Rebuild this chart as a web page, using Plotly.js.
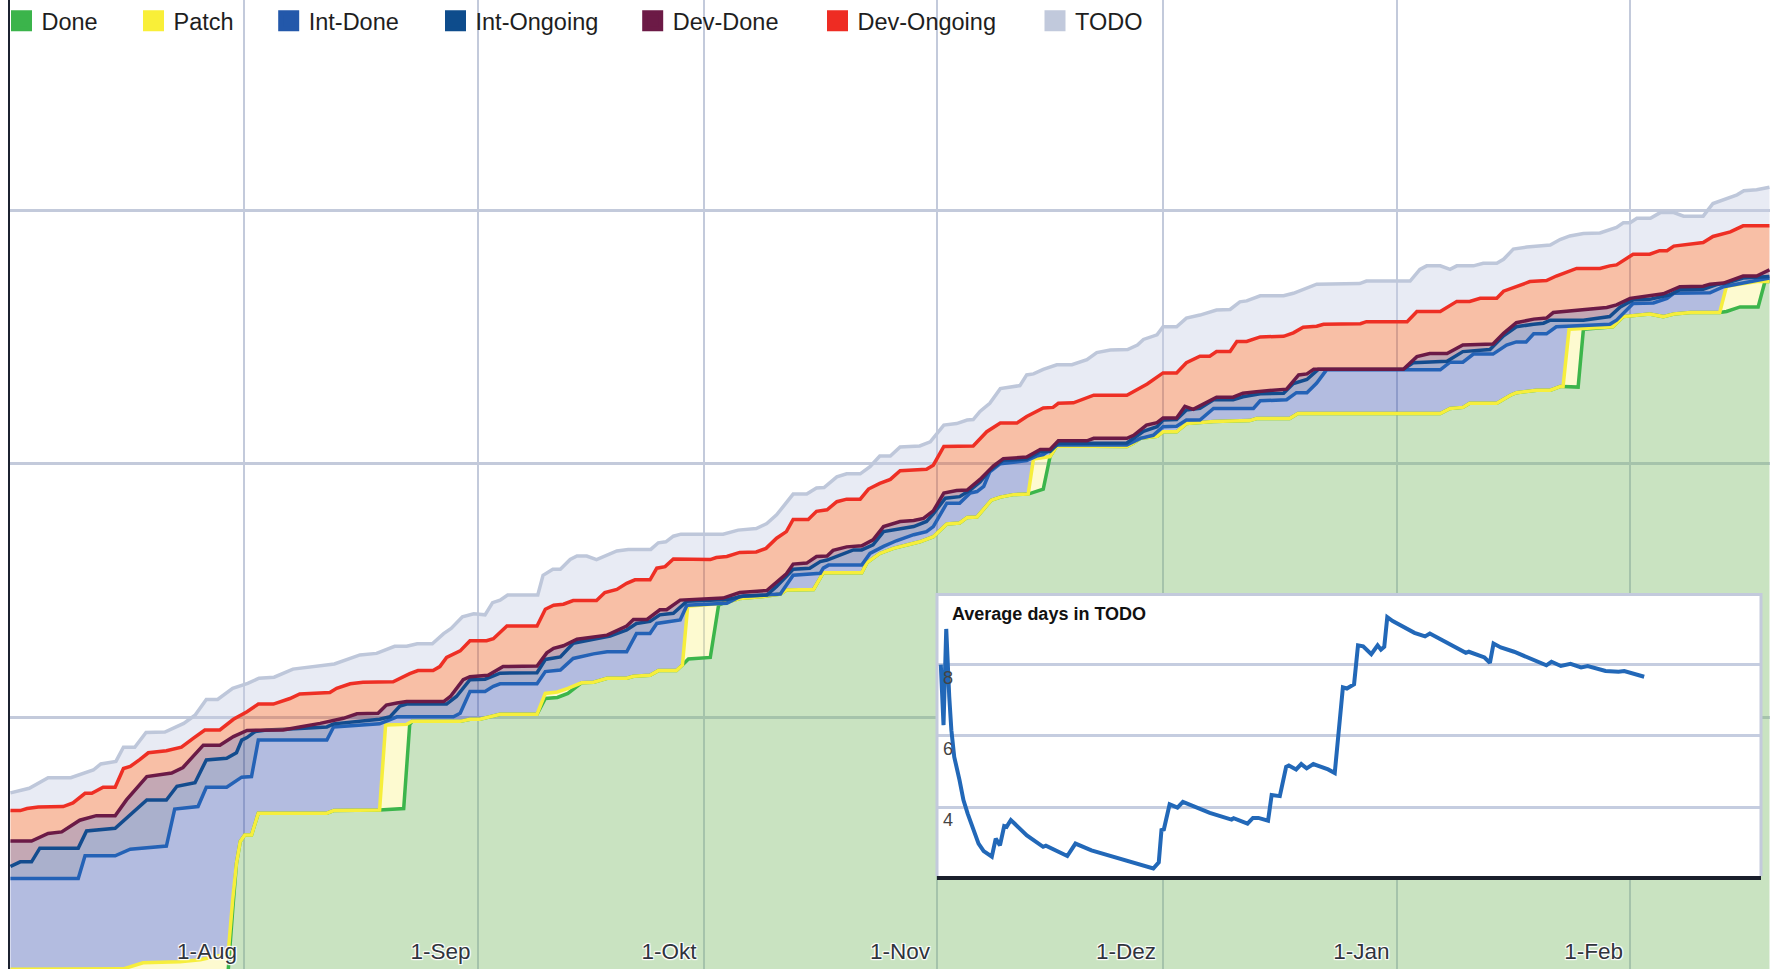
<!DOCTYPE html>
<html><head><meta charset="utf-8">
<script src="https://cdn.plot.ly/plotly-3.0.1.min.js"></script>
<style>html,body{margin:0;padding:0;background:#fff;overflow:hidden}#chart{width:1770px;height:969px}</style>
</head><body><div id="chart"></div>
<script>
// ---- data: [day offset from 1 Jul 2012, cumulative level of the band top] ----
const startDate = Date.UTC(2012, 6, 1);
const seriesNames = ['Done','Patch','Int-Done','Int-Ongoing','Dev-Done','Dev-Ongoing','TODO'];
const monthTickDates = ['2012-08-01','2012-09-01','2012-10-01','2012-11-01','2012-12-01','2013-01-01','2013-02-01'];
const monthTickLabels = ['1-Aug','1-Sep','1-Okt','1-Nov','1-Dez','1-Jan','1-Feb'];
const insetTickVals = [4, 6, 8];

const doneSeries = [[0,0],[28.9,0],[29.5,12],[30,21.2],[30.5,25.5],[31.1,26.8],[32,26.8],[32.9,31.1],[42,31.1],[42.9,31.6],[49,31.7],[52.2,32.0],[53,48.6],[53.3,49.2],[59.7,49.2],[61,49.6],[62.3,49.6],[65,50.6],[69.9,50.6],[71,53.7],[72.6,53.9],[74,54.7],[75.8,56.8],[77.4,56.9],[79.2,57.7],[81.8,57.7],[82.7,58.1],[84.9,58.3],[86,59.2],[88.4,59.2],[89.2,60.3],[90,61.5],[92.9,61.8],[94,72.1],[94.6,72.5],[95.5,72.9],[96.8,73.4],[99.9,73.8],[102.2,74.3],[103,75.1],[104.8,75.2],[106.6,75.2],[107.9,78.5],[113,78.5],[113.7,80.5],[115.4,82.3],[117.2,83.3],[119,83.9],[120.7,84.6],[122.5,85.6],[124.3,88.1],[126,88.3],[127,89.4],[128.3,89.5],[130.2,92.8],[131.4,93.4],[133.1,93.9],[135.1,94.0],[137.1,95.0],[138,101.4],[138.9,103.5],[148.2,103.4],[149.1,104.1],[150,105.0],[152.2,105.4],[153,106.3],[154.8,106.3],[156.1,107.9],[159.7,108.3],[164.5,108.5],[165.4,108.9],[169.8,108.9],[170.9,109.9],[189.8,109.9],[191.1,110.9],[192.8,111.1],[193.7,111.9],[197.3,111.9],[199.1,113.5],[199.9,114.0],[202.6,114.5],[204.4,114.5],[205.7,115.2],[206.1,115.2],[208.1,115.1],[208.8,126.5],[212.7,127.0],[214.1,129.0],[217.6,129.5],[219.4,129.0],[220.8,129.5],[223,129.8],[226.9,129.8],[227.8,130.0],[229.6,130.9],[232,130.9],[232.9,135.9],[233.5,135.9]];

const patchSeries = [[0,0.3],[15,0.4],[17.6,1.6],[22.5,1.8],[25.2,2.2],[28.9,3.4],[29.5,14.0],[30,21.2],[30.5,25.5],[31.1,26.8],[32,26.8],[32.9,31.1],[42,31.1],[42.9,31.6],[49,31.7],[49.8,48.5],[52.6,48.6],[53.3,49.2],[59.7,49.2],[61,49.6],[62.3,49.6],[65,50.6],[69.9,50.6],[71,54.7],[72.6,55.0],[74,55.7],[75.8,56.8],[77.4,56.9],[79.2,57.7],[81.8,57.7],[82.7,58.1],[84.9,58.3],[86,59.2],[88.4,59.2],[89.2,60.3],[89.9,71.9],[94.6,72.5],[95.5,72.9],[96.8,73.4],[99.9,73.8],[102.2,74.3],[103,75.1],[104.8,75.2],[106.6,75.2],[107.9,78.5],[113,78.5],[113.7,80.5],[115.4,82.3],[117.2,83.3],[119,83.9],[120.7,84.6],[122.5,85.6],[124.3,88.1],[126,88.3],[127,89.4],[128.3,89.5],[130.2,92.8],[131.4,93.4],[133.1,93.9],[135.1,94.0],[135.8,100.9],[138,101.4],[138.9,103.5],[148.2,103.4],[149.1,104.1],[150,105.0],[152.2,105.4],[153,106.3],[154.8,106.3],[156.1,107.9],[159.7,108.3],[164.5,108.5],[165.4,108.9],[169.8,108.9],[170.9,109.9],[189.8,109.9],[191.1,110.9],[192.8,111.1],[193.7,111.9],[197.3,111.9],[199.1,113.5],[199.9,114.0],[202.6,114.5],[204.4,114.5],[205.7,115.2],[206.1,115.2],[206.9,126.5],[212.7,127.0],[214.1,129.0],[217.6,129.5],[219.4,129.0],[220.8,129.5],[223,129.8],[226.9,129.8],[227.8,135.0],[231.8,135.9],[233.5,135.9]];

const intDoneSeries = [[0,18.2],[9,18.2],[9.9,22.7],[13.9,22.7],[15.9,24.0],[17.2,24.2],[20.7,24.6],[21.8,31.9],[24.9,32.4],[26,36.2],[28.7,36.2],[30.7,38.2],[32,38.3],[32.9,45.5],[42,45.5],[42.9,48.1],[46.4,48.4],[49,48.7],[50,49.3],[51.3,50.1],[58.8,50.1],[59.7,50.8],[61,55.1],[63,55.1],[64.1,56.1],[65,56.6],[69.9,56.6],[71,59.0],[73,59.3],[74.7,61.6],[77.4,62.5],[79.2,62.9],[81.8,62.9],[83.1,66.5],[84.9,66.5],[85.8,68.5],[88.9,69.2],[89.8,72.1],[95.1,72.5],[96.8,73.8],[102.2,74.3],[103.5,77.2],[103.9,78.0],[107.5,78.4],[107.9,79.4],[108.6,80.0],[113,80.0],[114.1,82.3],[115.9,83.7],[117.6,84.8],[119.9,86.0],[121.6,86.6],[122.5,87.6],[124.3,92.2],[126,92.2],[127.4,94.2],[128.3,94.5],[129.2,95.5],[130,98.4],[131.4,100.0],[134.9,100.6],[136.2,101.5],[137.1,101.8],[138.9,103.7],[148.2,103.7],[150,105.0],[151.7,105.6],[153,107.3],[154.8,107.4],[156.1,108.6],[157.9,108.6],[159.7,110.9],[165,110.9],[165.9,112.4],[169.4,112.6],[170.7,114.0],[172.1,114.0],[173.4,115.9],[174.7,118.5],[189.8,118.5],[191.1,120.0],[192.8,120.0],[194.2,121.6],[196.8,121.6],[198.6,123.4],[199.9,124.0],[201.2,124.0],[202.2,125.6],[203.9,125.6],[205.2,127.0],[212.3,127.5],[213.2,128.3],[215.4,131.6],[218.1,131.7],[219.9,132.6],[220.8,133.6],[225.6,133.7],[227.4,134.9],[233.5,136.6]];

const intOngoingSeries = [[0,20.6],[1.3,21.5],[2.8,21.5],[3.9,24.2],[9,24.2],[10.1,27.6],[13.9,28.1],[16.3,31.4],[18.1,33.7],[20.7,33.7],[22.1,36.4],[24.5,37.1],[26,41.6],[28.7,41.9],[30,43.0],[30.7,45.5],[31.4,46.0],[32.5,47.2],[34,47.5],[38.4,47.8],[42,48.1],[42.9,48.7],[49,49.6],[50.4,50.1],[51.7,52.2],[52.6,52.6],[57.9,52.6],[59.2,54.1],[61,57.4],[63,57.5],[65,58.7],[69.9,58.8],[71,61.4],[73,61.9],[74.7,64.6],[77.4,65.4],[79.6,66.0],[81.8,67.2],[83.1,68.5],[84.9,68.9],[86.2,70.2],[88,70.5],[89.8,72.9],[95.1,73.2],[97.3,73.9],[100.4,74.1],[101.7,75.8],[103.9,79.2],[106.1,79.4],[107.5,80.7],[108.4,81.0],[111.9,83.0],[113,83.0],[114.5,84.0],[115.9,86.6],[119.9,87.6],[121.6,88.6],[122.5,90.1],[124.1,93.2],[126,93.5],[127.4,94.8],[128.7,96.4],[130,98.7],[131.8,100.7],[134.9,100.9],[136.7,102.4],[138,102.4],[139.1,104.0],[148.2,104.1],[149.1,105.0],[150.4,106.4],[152.2,107.3],[153,108.6],[154.8,108.7],[156.1,110.6],[157.9,110.9],[159.7,112.6],[162.3,112.6],[163.6,113.2],[165.9,113.8],[169,113.9],[170.3,115.8],[172.1,116.6],[173.6,118.6],[184.9,118.6],[186.2,119.9],[188.9,120.1],[190.7,120.2],[192.8,122.1],[196.4,122.5],[198.2,125.2],[199.9,127.0],[202.2,127.5],[203.5,127.7],[204.4,128.3],[208.8,128.3],[212.3,129.0],[213.7,130.9],[215.4,132.3],[217.6,132.4],[220.3,133.3],[221.6,134.3],[224.7,134.4],[226.5,135.3],[227.8,135.6],[230,136.6],[233.5,136.9]];

const devDoneSeries = [[0,25.6],[2.8,25.6],[5,27.1],[6.8,27.4],[9.2,29.7],[11.4,30.6],[13.9,30.6],[15.4,33.7],[18.1,38.3],[19.4,38.6],[21.4,39.0],[22.9,40.1],[25.6,44.5],[27.8,44.5],[29.6,46.2],[31.4,47.4],[36.2,47.5],[38.4,48.1],[41.1,48.8],[44.2,49.8],[46,50.7],[48.8,50.8],[49.9,52.4],[51.3,52.8],[52.6,53.1],[57.5,53.1],[58.4,54.1],[60.1,57.4],[61,58.0],[63.4,58.3],[65.4,60.0],[69.9,60.1],[71.2,62.7],[72.1,63.6],[73.4,64.1],[75.2,65.4],[79.2,66.2],[81.8,68.0],[82.7,69.3],[84.5,69.3],[86.2,71.2],[87.1,71.2],[88.9,73.1],[94.6,73.5],[96.8,74.6],[100.4,75.0],[101.3,76.1],[103,78.3],[103.9,80.2],[105.7,80.4],[107,81.7],[108.4,81.8],[109.2,82.9],[111,83.6],[113,83.8],[114.5,85.0],[115.9,87.6],[118.1,88.6],[119.9,88.8],[121.2,89.2],[122.5,90.7],[123.9,94.2],[125.6,94.7],[127,94.8],[128.7,96.9],[130.5,99.6],[131.8,101.0],[134.9,101.3],[136.7,102.8],[138,102.8],[139.1,104.5],[142.9,104.5],[143.8,105.0],[148.2,105.0],[149.1,105.6],[150.8,107.6],[152.2,108.1],[153,109.0],[154.8,109.0],[155.9,111.3],[157,110.7],[158.8,112.0],[160.1,113.1],[162.3,113.1],[163.6,113.9],[165.4,114.2],[169.4,114.7],[171,117.5],[172.1,117.7],[173,118.6],[184.9,118.6],[186.7,121.1],[188.4,121.7],[190.7,121.7],[192.8,123.4],[196.8,123.6],[198.2,125.7],[199.9,127.8],[202.2,128.5],[203.9,128.7],[204.8,129.8],[211.9,130.8],[213.2,131.3],[215,132.6],[217.6,133.1],[219.4,133.5],[221.6,134.9],[224.7,135.0],[225.6,135.4],[227.4,135.6],[230,137.0],[231.8,137.0],[233.5,138.2]];

const devOngoingSeries = [[0,31.6],[1.3,31.6],[2.2,32.0],[3.7,32.3],[7,32.4],[8.3,33.1],[9.9,35.0],[10.8,35.0],[12.3,36.2],[13.9,36.2],[15,39.9],[15.9,40.3],[17.2,41.7],[18.3,43.0],[20.7,43.4],[22.7,44.1],[24.3,45.9],[25.8,47.5],[27.8,47.5],[29.6,49.6],[31.4,51.1],[32.9,52.6],[34.9,52.6],[37.1,53.7],[38.4,54.6],[42.4,54.9],[43.3,55.7],[45.1,56.6],[46.8,56.9],[50.8,57.0],[53,58.6],[54.1,59.2],[56.1,59.2],[57,60.0],[57.9,61.8],[59.7,63.1],[61,65.1],[63.2,65.1],[64.1,65.5],[65.9,68.0],[69.9,68.0],[71,71.3],[72.1,72.1],[73.4,72.3],[74.7,73.0],[77.8,73.0],[78.9,74.6],[80.5,75.2],[81.8,76.4],[82.9,77.1],[84.9,77.1],[85.8,79.4],[86.9,79.7],[88,81.2],[92.9,81.1],[93.7,81.5],[95.1,81.7],[96.8,82.5],[99,82.6],[100.3,83.3],[101.7,85.3],[103,86.6],[103.9,89.0],[105.9,89.0],[107,90.6],[108.4,90.9],[109.7,92.5],[111,93.0],[112.8,93.0],[113.9,95.0],[115.4,96.1],[116.8,96.9],[118.1,98.6],[121.6,98.9],[122.5,99.7],[123.9,103.4],[127.8,103.5],[128.7,105.0],[129.6,106.3],[131.4,108.0],[133.6,108.0],[134.9,109.3],[137.1,111.0],[138.4,111.1],[139.1,111.9],[141.1,112.0],[143.8,113.5],[148.2,113.5],[149.1,114.2],[150.9,115.7],[153,117.9],[154.8,117.9],[156.1,119.9],[157.9,121.2],[159.2,121.2],[160.1,122.1],[161.9,122.1],[162.8,124.1],[164.1,124.1],[165.9,125.0],[169,125.1],[170.3,125.8],[171.6,126.9],[173.4,127.1],[174.3,127.5],[179.2,127.6],[180,128.0],[185.4,128.0],[186.7,130.0],[189.8,130.0],[192,132.0],[193.7,132.0],[195.1,132.6],[197.3,132.6],[198.2,134.0],[199.9,134.9],[201.7,135.9],[203.9,136.1],[205.2,137.0],[207.9,138.5],[211,138.5],[212.3,139.0],[213.2,139.2],[215.4,141.3],[217.6,141.3],[218.9,142.0],[219.9,142.0],[220.8,142.9],[224.7,143.6],[226,144.8],[228.3,145.7],[230,146.9],[233.5,146.9]];

const todoSeries = [[0,35.1],[2.5,36.0],[5,38.1],[8,38.1],[11,39.6],[12,40.8],[14,41.3],[15,44.1],[16.5,44.1],[18,47.0],[20.5,47.1],[23,48.8],[24.5,50.4],[26,53.5],[27.5,53.5],[29.5,55.7],[31.5,56.7],[33,57.7],[35,57.9],[36,58.5],[37.5,59.5],[43,60.5],[46.4,62.3],[48.6,62.6],[51,64.0],[52.6,64.0],[54,64.5],[56,64.5],[57.5,66.5],[58.5,67.5],[60,69.8],[61.5,70.4],[63,70.2],[64,72.6],[65,73.1],[66,74.1],[70,74.1],[70.7,78.0],[72,79.2],[73,79.2],[74.3,81.1],[75.2,81.8],[76.5,81.8],[77.8,81.1],[79.2,82.0],[80.5,82.8],[82,83.1],[85,83.1],[86,84.4],[87,84.6],[88,85.7],[89,86.1],[94.6,86.1],[96.6,86.9],[99,87.2],[100.4,88.2],[101.7,89.9],[102.6,91.5],[103.9,94.0],[105.7,94.0],[107,95.2],[108,95.3],[109.7,97.4],[111,98.0],[112.8,98.0],[114.1,99.4],[115.4,101.5],[116.8,101.5],[118.1,103.3],[120.7,103.5],[122.1,104.3],[123.9,107.6],[125.6,107.9],[127,108.6],[127.8,108.7],[128.7,110.3],[130,111.9],[131.4,114.8],[134,115.4],[134.9,117.5],[135.8,117.7],[137.1,118.6],[138.9,119.5],[140.9,119.5],[142.9,120.5],[144.2,121.9],[146,122.4],[148.3,122.5],[149.6,123.4],[150.4,124.5],[152.2,125.4],[153,127.0],[154.8,127.0],[156.1,128.7],[157.9,129.3],[160.1,130.3],[161.9,130.4],[163.2,131.9],[164.1,132.1],[165.9,133.1],[169,133.1],[170.3,133.6],[173.4,135.4],[179.1,135.5],[180,136.0],[185.8,136.0],[187.1,138.3],[188,139.0],[189.8,139.0],[191.1,138.3],[192,139.0],[194.2,139.0],[195.5,139.5],[197.3,139.5],[198.2,140.3],[199.5,142.3],[201.3,142.7],[204.4,143.1],[205.7,144.2],[207,144.9],[208.8,145.4],[211,145.5],[213.2,146.6],[214.1,147.5],[215,147.5],[215.9,148.4],[217.7,148.4],[219,149.5],[220.8,149.5],[222.1,148.8],[224.7,148.8],[226,151.3],[227.4,152.1],[229.2,153.0],[230.1,153.8],[231.8,154.0],[233.5,154.5]];

// inset: average days an item spends in TODO
const avgTodoSeries = [[0,8.0],[0.9,6.3],[1.8,9.0],[2.3,7.9],[2.8,7.09],[3.5,6.16],[4.45,5.41],[6.2,4.76],[7.5,4.2],[8.9,3.82],[10.7,3.36],[12.5,2.98],[14.2,2.77],[16.9,2.61],[18.2,3.12],[19.6,2.93],[21.0,3.47],[21.8,3.45],[23.2,3.64],[28.5,3.21],[33.9,2.89],[34.8,2.92],[41.9,2.63],[44.6,2.98],[49.9,2.79],[58.8,2.56],[70.4,2.28],[72.2,2.45],[73.1,3.36],[73.9,3.38],[75.8,4.08],[78.4,3.99],[80.2,4.15],[89.1,3.84],[96.3,3.65],[97.0,3.69],[101.6,3.54],[103.4,3.70],[105.2,3.70],[108.4,3.62],[109.6,4.34],[112.3,4.31],[114.4,5.13],[115.3,5.17],[117.7,5.06],[119.4,5.21],[121.2,5.09],[123.4,5.21],[128.3,5.06],[130.5,4.96],[131.9,6.16],[133.2,7.36],[134.5,7.33],[136.9,7.45],[138.2,8.54],[139.9,8.51],[142.6,8.29],[144.7,8.54],[145.8,8.42],[146.9,8.5],[147.9,9.33],[149.7,9.22],[156.9,8.89],[160.4,8.79],[162.0,8.87],[173.9,8.33],[174.9,8.36],[180.1,8.2],[181.9,8.05],[183.1,8.59],[185.5,8.48],[189.9,8.36],[200.6,7.98],[202.3,8.08],[205.4,7.96],[208.6,8.02],[212.1,7.92],[214.3,7.96],[220.2,7.82],[224.5,7.80],[226.4,7.82],[233.0,7.66]];

// ---- styling ----
const lineColors = ['#3cb54b','#f6ee3c','#2462b6','#134c8e','#6b1a46','#ee2f24','#bec7da'];
const swatchColors = ['#3bb44b','#f9ef38','#2358aa','#0e4c8c','#6c1a46','#ee2c23','#c1c9dc'];
const fillColors = ['rgba(120,185,100,0.4)','rgba(250,242,137,0.4)','rgba(65,87,177,0.4)','rgba(42,57,127,0.4)','rgba(107,37,67,0.4)','rgba(237,95,32,0.4)','rgba(197,205,227,0.4)'];
const legendCenters = [21.5, 153.5, 288.7, 455.5, 652.7, 837.5, 1055];

function dayToDate(d){
  return new Date(startDate + d * 86400000).toISOString().slice(0,19).replace('T',' ');
}
const allSeries = [doneSeries, patchSeries, intDoneSeries, intOngoingSeries, devDoneSeries, devOngoingSeries, todoSeries];
const FONT = 'Liberation Sans, Arial, Helvetica, sans-serif';

const traces = [];
allSeries.forEach((s, i) => {
  traces.push({
    type:'scatter', mode:'lines', name: seriesNames[i],
    x: s.map(p => dayToDate(p[0])), y: s.map(p => p[1]),
    line:{color: lineColors[i], width:3.5, shape:'linear'},
    fill: i === 0 ? 'tozeroy' : 'tonexty', fillcolor: fillColors[i],
    showlegend:false, hoverinfo:'skip', xaxis:'x', yaxis:'y'
  });
});
// legend entries (square swatches)
seriesNames.forEach((n, i) => {
  traces.push({
    type:'scatter', mode:'markers', name:n, x:[null], y:[null],
    marker:{symbol:'square', size:16, color:swatchColors[i], line:{color:swatchColors[i], width:5}},
    legend: i === 0 ? 'legend' : 'legend' + (i + 1),
    showlegend:true, hoverinfo:'skip', xaxis:'x', yaxis:'y'
  });
});
traces.push({
  type:'scatter', mode:'lines', name:'Average days in TODO',
  x: avgTodoSeries.map(p => dayToDate(p[0])), y: avgTodoSeries.map(p => p[1]),
  line:{color:'#2268b8', width:4}, showlegend:false, hoverinfo:'skip',
  xaxis:'x2', yaxis:'y2'
});

const W = 1770, H = 969, L = 10;
const px2paperX = px => (px - L) / (W - L);
const px2paperY = py => (H - py) / H;

const layout = {
  width: W, height: H,
  margin:{l:L, r:0, t:0, b:0, pad:0, autoexpand:false},
  paper_bgcolor:'#ffffff', plot_bgcolor:'#ffffff',
  font:{family:FONT, color:'#222'},
  hovermode:false,
  xaxis:{
    type:'date', range:[dayToDate(-0.06), dayToDate(233.57)],
    tickmode:'array', tickvals: monthTickDates, ticktext: monthTickLabels,
    ticklabelposition:'inside left', ticks:'', ticklabelshift:-7, ticklabelstandoff:0,
    tickfont:{family:FONT, size:22.5, color:'#30343c',
      shadow:'1px 1px 1px #fff, -1px -1px 1px #fff, 1px -1px 1px #fff, -1px 1px 1px #fff, 0 0 2px #fff'},
    showgrid:true, gridcolor:'#c3cadb', gridwidth:2,
    zeroline:false, showline:false, fixedrange:true
  },
  yaxis:{
    range:[0.37, 191.42], tick0:0, dtick:50,
    showticklabels:false, ticks:'',
    showgrid:true, gridcolor:'#c3cadb', gridwidth:3,
    zeroline:false, showline:true, linecolor:'#1c2230', linewidth:2, fixedrange:true
  },
  xaxis2:{
    type:'date', domain:[px2paperX(937), px2paperX(1761)], anchor:'y2',
    range:[dayToDate(-1.26), dayToDate(271.7)],
    showgrid:false, showticklabels:false, ticks:'', zeroline:false,
    showline:true, linecolor:'#1a1f2c', linewidth:4, fixedrange:true
  },
  yaxis2:{
    domain:[px2paperY(876), px2paperY(594)], anchor:'x2',
    range:[2.07, 9.98], tickmode:'array', tickvals: insetTickVals,
    ticklabelposition:'inside bottom', ticks:'', ticklabelstandoff:3,
    tickfont:{family:FONT, size:18, color:'#444'},
    showgrid:true, gridcolor:'#c5cde0', gridwidth:3,
    zeroline:false, showline:false, fixedrange:true
  },
  shapes:[{
    type:'path', xref:'paper', yref:'paper', layer:'above',
    path:'M' + px2paperX(937) + ',' + px2paperY(876) + ' L' + px2paperX(937) + ',' + px2paperY(594.5) +
         ' L' + px2paperX(1761) + ',' + px2paperY(594.5) + ' L' + px2paperX(1761) + ',' + px2paperY(876),
    line:{color:'#c3cadc', width:3}
  }],
  annotations:[{
    text:'<b>Average days in TODO</b>', xref:'paper', yref:'paper',
    x: px2paperX(950), y: px2paperY(614), xanchor:'left', yanchor:'middle',
    showarrow:false, font:{family:FONT, size:18, color:'#111'}
  }]
};
legendCenters.forEach((c, i) => {
  const key = i === 0 ? 'legend' : 'legend' + (i + 1);
  layout[key] = {
    x: (c - 20) / W, xref:'container', xanchor:'left',
    y: (H - 21) / H, yref:'container', yanchor:'middle',
    orientation:'h', bgcolor:'rgba(0,0,0,0)', borderwidth:0,
    font:{family:FONT, size:23.5, color:'#1e1e1e'},
    itemclick:false, itemdoubleclick:false
  };
});

Plotly.newPlot('chart', traces, layout, {displayModeBar:false, staticPlot:true});
</script>
</body></html>
